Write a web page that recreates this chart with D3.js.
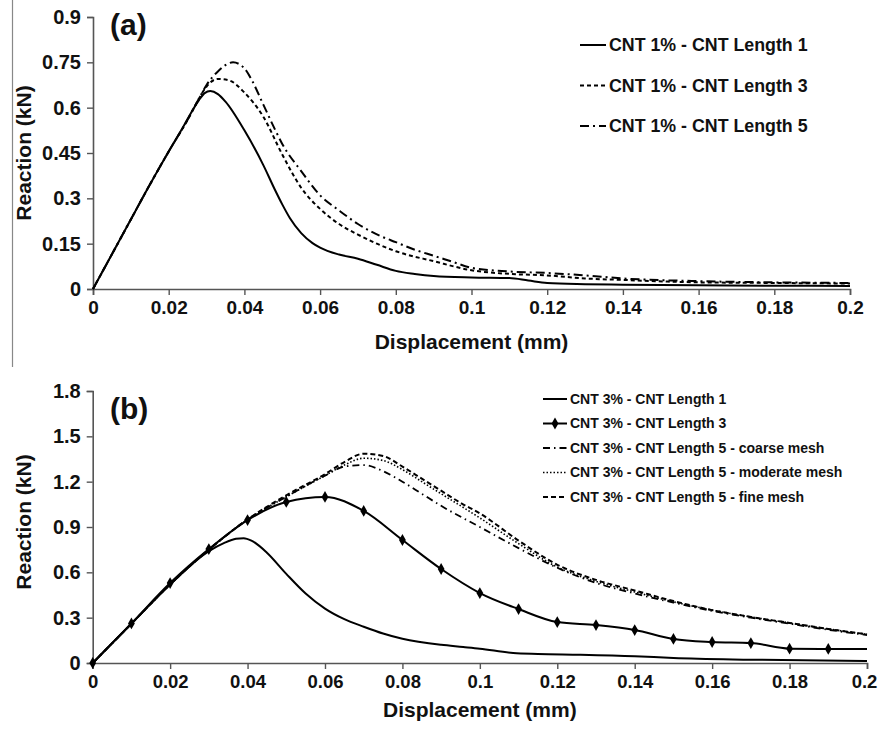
<!DOCTYPE html>
<html><head><meta charset="utf-8">
<script src="https://cdn.jsdelivr.net/npm/d3@7"></script>
<style>
html,body{margin:0;padding:0;background:#fff;}
svg text{font-family:"Liberation Sans",Arial,sans-serif;font-weight:bold;fill:#111;}
</style></head>
<body>
<svg id="chart" width="878" height="730"></svg>
<script>
// ---------- DATA ----------
const xTicks = [0,0.02,0.04,0.06,0.08,0.1,0.12,0.14,0.16,0.18,0.2];
const yTicksA = [0,0.15,0.3,0.45,0.6,0.75,0.9];
const yTicksB = [0,0.3,0.6,0.9,1.2,1.5,1.8];

// Panel (a): CNT 1%
const a_L1_x = [0,0.005,0.01,0.015,0.02,0.024,0.026,0.028,0.0295,0.031,0.033,0.035,0.04,0.045,0.048,0.05,0.052,0.055,0.058,0.06,0.065,0.07,0.075,0.08,0.085,0.09,0.1,0.11,0.115,0.12,0.13,0.14,0.16,0.18,0.2];
const a_L1_y = [0,0.115,0.23,0.345,0.455,0.54,0.585,0.625,0.648,0.655,0.645,0.62,0.525,0.41,0.33,0.28,0.235,0.185,0.152,0.137,0.114,0.1,0.08,0.06,0.05,0.043,0.038,0.036,0.028,0.02,0.016,0.014,0.012,0.011,0.01];
const a_L3_x = [0,0.005,0.01,0.015,0.02,0.025,0.028,0.03,0.033,0.036,0.04,0.045,0.05,0.055,0.06,0.065,0.07,0.075,0.08,0.09,0.1,0.11,0.12,0.13,0.14,0.16,0.18,0.2];
const a_L3_y = [0,0.115,0.23,0.345,0.455,0.56,0.63,0.67,0.695,0.69,0.65,0.57,0.445,0.335,0.265,0.215,0.18,0.15,0.125,0.092,0.062,0.05,0.045,0.035,0.03,0.022,0.02,0.018];
const a_L5_x = [0,0.005,0.01,0.015,0.02,0.025,0.028,0.03,0.033,0.037,0.04,0.042,0.045,0.048,0.05,0.055,0.06,0.065,0.07,0.076,0.08,0.085,0.09,0.095,0.1,0.11,0.12,0.13,0.14,0.16,0.18,0.2];
const a_L5_y = [0,0.115,0.23,0.345,0.455,0.56,0.63,0.675,0.72,0.75,0.73,0.69,0.61,0.53,0.48,0.39,0.31,0.26,0.215,0.175,0.155,0.13,0.11,0.09,0.07,0.058,0.053,0.045,0.035,0.026,0.022,0.02];

// Panel (b): CNT 3%
const b_L1_x = [0,0.01,0.02,0.03,0.034,0.037,0.039,0.041,0.045,0.05,0.055,0.06,0.065,0.07,0.075,0.08,0.09,0.0957,0.1,0.1086,0.115,0.126,0.14,0.15,0.17,0.2];
const b_L1_y = [0,0.26,0.52,0.74,0.795,0.822,0.826,0.81,0.73,0.59,0.46,0.36,0.29,0.24,0.195,0.16,0.12,0.106,0.095,0.066,0.06,0.055,0.045,0.033,0.022,0.013];
const b_L3_x = [0,0.01,0.02,0.03,0.04,0.05,0.06,0.07,0.08,0.09,0.1,0.11,0.12,0.13,0.14,0.15,0.16,0.17,0.18,0.19,0.2];
const b_L3_y = [0,0.262,0.529,0.754,0.946,1.066,1.099,1.006,0.814,0.622,0.463,0.357,0.271,0.251,0.218,0.159,0.139,0.132,0.095,0.093,0.092];
const b_L5c_x = [0,0.01,0.02,0.03,0.04,0.05,0.06,0.065,0.07,0.075,0.08,0.085,0.09,0.1,0.11,0.12,0.13,0.14,0.15,0.16,0.17,0.18,0.19,0.2];
const b_L5c_y = [0,0.26,0.52,0.75,0.95,1.1,1.24,1.3,1.31,1.27,1.2,1.12,1.04,0.9,0.76,0.63,0.53,0.46,0.4,0.345,0.3,0.26,0.22,0.185];
const b_L5m_x = [0,0.01,0.02,0.03,0.04,0.05,0.06,0.065,0.07,0.075,0.08,0.085,0.09,0.1,0.11,0.12,0.13,0.14,0.15,0.16,0.17,0.18,0.19,0.2];
const b_L5m_y = [0,0.26,0.52,0.75,0.95,1.1,1.24,1.31,1.355,1.34,1.28,1.2,1.12,0.96,0.79,0.635,0.54,0.47,0.405,0.35,0.305,0.265,0.225,0.19];
const b_L5f_x = [0,0.01,0.02,0.03,0.04,0.05,0.06,0.065,0.07,0.075,0.08,0.085,0.09,0.095,0.1,0.11,0.12,0.13,0.14,0.15,0.16,0.17,0.18,0.19,0.2];
const b_L5f_y = [0,0.26,0.52,0.75,0.95,1.11,1.25,1.33,1.385,1.37,1.3,1.22,1.14,1.06,0.99,0.81,0.65,0.55,0.48,0.41,0.35,0.305,0.265,0.225,0.19];

const legendA = ["CNT 1% - CNT Length 1","CNT 1% - CNT Length 3","CNT 1% - CNT Length 5"];
const legendB = ["CNT 3% - CNT Length 1","CNT 3% - CNT Length 3","CNT 3% - CNT Length 5 - coarse mesh","CNT 3% - CNT Length 5 - moderate mesh","CNT 3% - CNT Length 5 - fine mesh"];

// ---------- DRAW ----------
const svg = d3.select("#chart");
const zip = (xs, ys) => xs.map((x,i)=>[x, ys[i]]);
const fmt = d => d === 0 ? "0" : String(+d.toFixed(2));

// left border line
svg.append("line").attr("x1",12.5).attr("x2",12.5).attr("y1",0).attr("y2",367)
  .attr("stroke","#888").attr("stroke-width",1.2);

function panel(cfg){
  const x = d3.scaleLinear().domain([0,0.2]).range([cfg.x0,cfg.x1]);
  const y = d3.scaleLinear().domain([0,cfg.ymax]).range([cfg.y0,cfg.y1]);
  const g = svg.append("g");
  // axes
  const xa = g.append("g").attr("transform",`translate(0,${cfg.y0})`)
    .call(d3.axisBottom(x).tickValues(xTicks).tickFormat(fmt).tickSize(6).tickPadding(6));
  const ya = g.append("g").attr("transform",`translate(${cfg.x0},0)`)
    .call(d3.axisLeft(y).tickValues(cfg.yTicks).tickFormat(fmt).tickSize(6).tickPadding(6));
  [xa,ya].forEach(a=>{
    a.select(".domain").attr("stroke","#555").attr("stroke-width",1.6);
    a.selectAll(".tick line").attr("stroke","#555").attr("stroke-width",1.4);
    a.selectAll("text").style("font-family","'Liberation Sans',Arial,sans-serif").style("font-weight","bold").attr("fill","#111");
  });
  xa.selectAll("text").style("font-size",cfg.xfs+"px");
  if(cfg.lastShift) xa.selectAll(".tick").filter(d=>d===0.2).select("text").attr("dx",cfg.lastShift);
  ya.selectAll("text").style("font-size",cfg.yfs+"px");
  // titles
  g.append("text").attr("x",(cfg.x0+cfg.x1)/2).attr("y",cfg.xTitleY).attr("text-anchor","middle")
    .style("font-size","21px").text("Displacement (mm)");
  g.append("text").attr("transform",`translate(31,${cfg.yTitleY}) rotate(-90)`).attr("text-anchor","middle")
    .style("font-size","21px").text("Reaction (kN)");
  g.append("text").attr("x",110).attr("y",cfg.labelY).style("font-size","30px").text(cfg.label);
  // series
  const line = d3.line().x(d=>x(d[0])).y(d=>y(d[1])).curve(d3.curveMonotoneX);
  cfg.series.forEach(s=>{
    g.append("path").datum(s.data).attr("d",line).attr("fill","none")
      .attr("stroke","#000").attr("stroke-width",s.w||2).attr("stroke-dasharray",s.dash||null);
    if(s.marker){
      g.selectAll(null).data(s.data.filter(d=>d[0]<0.195)).enter().append("path")
        .attr("d",d3.symbol(d3.symbolDiamond,40)())
        .attr("transform",d=>`translate(${x(d[0])},${y(d[1])})`).attr("fill","#000");
    }
  });
  // legend
  cfg.legend.forEach((t,i)=>{
    const s = cfg.series[i];
    const yy = cfg.legY + i*cfg.legDy;
    g.append("line").attr("x1",cfg.legX0).attr("x2",cfg.legX1).attr("y1",yy).attr("y2",yy)
      .attr("stroke","#000").attr("stroke-width",s.w||2).attr("stroke-dasharray",s.dash||null);
    if(s.marker){
      g.append("path").attr("d",d3.symbol(d3.symbolDiamond,40)())
        .attr("transform",`translate(${(cfg.legX0+cfg.legX1)/2},${yy})`).attr("fill","#000");
    }
    g.append("text").attr("x",cfg.legTx).attr("y",yy).attr("dy","0.35em")
      .style("font-size",cfg.legFs+"px").text(t);
  });
}

panel({
  x0:93,x1:850,y0:289,y1:17,ymax:0.9,yTicks:yTicksA,xfs:19,yfs:20,
  xTitleY:349,yTitleY:153,label:"(a)",labelY:35,
  series:[
    {data:zip(a_L1_x,a_L1_y)},
    {data:zip(a_L3_x,a_L3_y),dash:"4,3"},
    {data:zip(a_L5_x,a_L5_y),dash:"9,4,2,4"}
  ],
  legend:legendA,legY:45,legDy:40.5,legX0:580,legX1:606,legTx:609,legFs:17.8
});

panel({
  x0:92.7,x1:867,y0:663,y1:391,ymax:1.8,yTicks:yTicksB,xfs:18.5,yfs:20,lastShift:-3,
  xTitleY:717,yTitleY:522,label:"(b)",labelY:419,
  series:[
    {data:zip(b_L1_x,b_L1_y)},
    {data:zip(b_L3_x,b_L3_y),marker:true},
    {data:zip(b_L5c_x,b_L5c_y),dash:"7,4,1.5,4",w:1.8},
    {data:zip(b_L5m_x,b_L5m_y),dash:"1.5,2",w:1.6},
    {data:zip(b_L5f_x,b_L5f_y),dash:"5,3",w:2}
  ],
  legend:legendB,legY:399,legDy:24.5,legX0:543,legX1:567,legTx:570,legFs:14
});
</script>
</body></html>
